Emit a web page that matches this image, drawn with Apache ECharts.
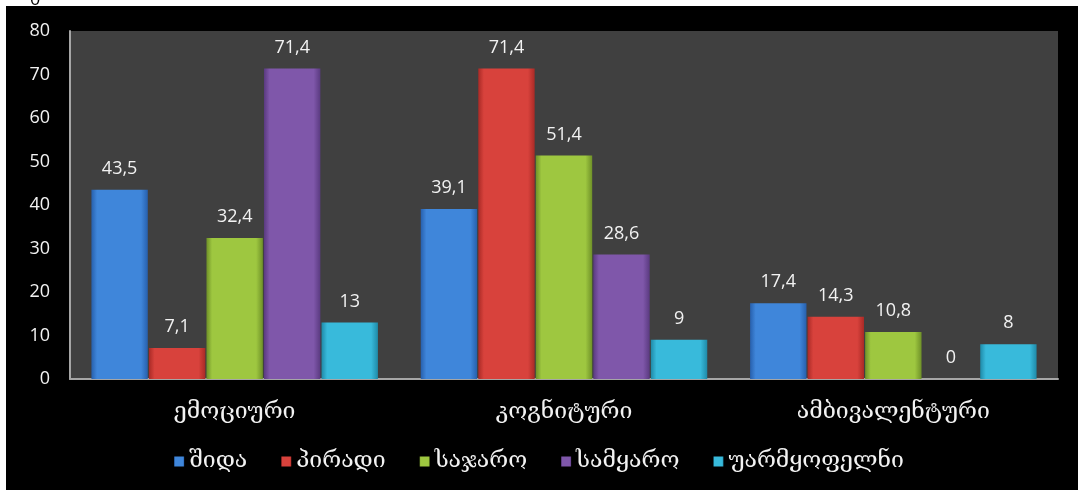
<!DOCTYPE html>
<html>
<head>
<meta charset="utf-8">
<script src="https://cdn.jsdelivr.net/npm/echarts@6/dist/echarts.min.js"></script>
<style>
html, body { margin: 0; padding: 0; background: #fff; }
#chart { width: 1078px; height: 490px; }
</style>
</head>
<body>
<div id="chart"></div>
<script>
var categories = ['ემოციური', 'კოგნიტური', 'ამბივალენტური'];
var seriesNames = ['შიდა', 'პირადი', 'საჯარო', 'სამყარო', 'უარმყოფელნი'];
var shida = [43.5, 39.1, 17.4];
var piradi = [7.1, 71.4, 14.3];
var sajaro = [32.4, 51.4, 10.8];
var samyaro = [71.4, 28.6, 0];
var uarmyofelni = [13, 9, 8];
var yTicks = { min: 0, max: 80, interval: 10 };

// base, edge colours per series (bevel look)
var palette = [
    ['#3f86da', '#2760ad'],
    ['#d8423c', '#a92a26'],
    ['#9ec740', '#6f9128'],
    ['#7f57aa', '#5a3a80'],
    ['#38badb', '#1f8aa8']
];
var values = [shida, piradi, sajaro, samyaro, uarmyofelni];
var geoFont = 'DejaVu Serif';

function barColor(i) {
    return new echarts.graphic.LinearGradient(0, 0, 1, 0, [
        { offset: 0, color: palette[i][1] },
        { offset: 0.1, color: palette[i][0] },
        { offset: 0.88, color: palette[i][0] },
        { offset: 1, color: palette[i][1] }
    ]);
}

var series = [];
for (let i = 0; i < seriesNames.length; i++) {
    series.push({
        name: seriesNames[i],
        type: 'bar',
        data: values[i],
        barGap: '2%',
        barCategoryGap: '13%',
        itemStyle: { color: barColor(i) },
        label: {
            show: true,
            position: 'top',
            distance: 12,
            color: '#f2f2f2',
            fontSize: 18,
            fontFamily: 'Open Sans',
            formatter: function (p) {
                return String(p.value).replace('.', ',');
            }
        }
    });
}

var chart = echarts.init(document.getElementById('chart'));
chart.setOption({
    backgroundColor: '#ffffff',
    animation: false,
    color: palette.map(function (c) { return c[0]; }),
    graphic: [
        {
            type: 'rect',
            z: -10,
            shape: { x: 6, y: 6, width: 1072, height: 484 },
            style: { fill: '#000000' }
        },
        {
            type: 'text',
            left: 30,
            top: -9,
            style: { text: '0', fill: '#000', fontSize: 18, fontFamily: 'Open Sans' }
        }
    ],
    grid: {
        left: 70,
        right: 20,
        top: 31,
        bottom: 111,
        show: true,
        backgroundColor: '#404040',
        borderWidth: 0
    },
    legend: {
        data: seriesNames,
        bottom: 12,
        left: 'center',
        itemWidth: 10,
        itemHeight: 10,
        itemGap: 34,
        icon: 'rect',
        textStyle: { color: '#f2f2f2', fontSize: 23, fontFamily: geoFont }
    },
    xAxis: {
        type: 'category',
        data: categories,
        axisLine: { lineStyle: { color: '#a6a6a6', width: 2 } },
        axisTick: { show: false },
        axisLabel: { color: '#f2f2f2', fontSize: 23, fontFamily: geoFont, margin: 22 }
    },
    yAxis: {
        type: 'value',
        min: yTicks.min,
        max: yTicks.max,
        interval: yTicks.interval,
        axisLine: { show: true, lineStyle: { color: '#a6a6a6', width: 2 } },
        axisTick: { show: false },
        splitLine: { show: false },
        axisLabel: { color: '#f2f2f2', fontSize: 18, fontFamily: 'Open Sans', margin: 20 }
    },
    series: series
});
</script>
</body>
</html>
